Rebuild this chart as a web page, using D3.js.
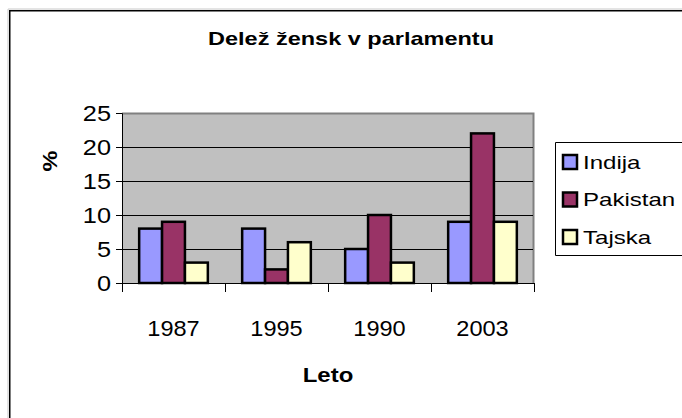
<!DOCTYPE html>
<html>
<head>
<meta charset="utf-8">
<script src="https://cdn.jsdelivr.net/npm/d3@7"></script>
<style>
  html, body { margin: 0; background: #fff; overflow: hidden; }
  svg { display: block; }
  text { font-family: "Liberation Sans", Arial, sans-serif; }
</style>
</head>
<body>
<div id="chart"></div>
<script>
// Data
var years = ["1987", "1995", "1990", "2003"];
var series = ["Indija", "Pakistan", "Tajska"];
var indija = [8, 8, 5, 9];
var pakistan = [9, 2, 10, 22];
var tajska = [3, 6, 3, 9];
var yTicks = [0, 5, 10, 15, 20, 25];
var colors = ["#9999FF", "#993366", "#FFFFCC"];

var values = [indija, pakistan, tajska];
var data = years.map(function(y, i) {
  return { year: y, vals: series.map(function(s, j) { return { name: s, value: values[j][i] }; }) };
});

var W = 682, H = 418;
var plot = { left: 122, right: 534, top: 113, bottom: 283 };

var svg = d3.select("#chart")
  .append("svg")
    .attr("width", W)
    .attr("height", H);

// the original chart text is a bit wider than the font, stretch it horizontally
function stretch(sel, k) {
  sel.each(function() {
    var len = this.getComputedTextLength();
    d3.select(this).attr("textLength", len * k).attr("lengthAdjust", "spacingAndGlyphs");
  });
}

// Outer chart frame: only left and top edges are inside the picture
svg.append("path")
  .attr("d", "M8," + H + "V9H" + W)
  .attr("fill", "none").attr("stroke", "#c8c8c8").attr("stroke-width", 1);
svg.append("path")
  .attr("d", "M9.75," + H + "V10.75H" + W)
  .attr("fill", "none").attr("stroke", "#000").attr("stroke-width", 1.5);

// Title
svg.append("text")
  .attr("x", 351).attr("y", 45)
  .attr("text-anchor", "middle")
  .style("font-size", "18.5px")
  .style("font-weight", "bold")
  .text("Delež žensk v parlamentu")
  .call(stretch, 1.27);

// Scales
var x0 = d3.scaleBand().domain(years).range([plot.left, plot.right]);
var bw = x0.bandwidth();
var barW = bw / 4.5;
var x1 = d3.scaleBand().domain(series).range([barW * 0.75, barW * 3.75]);
var y = d3.scaleLinear().domain([0, 25]).range([plot.bottom, plot.top]);

// Plot area
svg.append("rect")
  .attr("x", plot.left).attr("y", plot.top)
  .attr("width", plot.right - plot.left).attr("height", plot.bottom - plot.top)
  .attr("fill", "#C0C0C0");
svg.append("path")
  .attr("d", "M" + plot.left + "," + (plot.top + 0.5) + "H" + (plot.right - 0.5) + "V" + plot.bottom)
  .attr("fill", "none").attr("stroke", "#808080").attr("stroke-width", 2);

// Gridlines
svg.selectAll(".grid")
  .data(yTicks.filter(function(t) { return t > 0 && t < 25; }))
  .enter().append("line")
    .attr("x1", plot.left).attr("x2", plot.right - 1)
    .attr("y1", function(d) { return Math.round(y(d)) + 0.5; })
    .attr("y2", function(d) { return Math.round(y(d)) + 0.5; })
    .attr("stroke", "#000").attr("stroke-width", 1);

// Bars
var groups = svg.selectAll(".grp")
  .data(data)
  .enter().append("g")
    .attr("transform", function(d) { return "translate(" + x0(d.year) + ",0)"; });

groups.selectAll("rect")
  .data(function(d) { return d.vals; })
  .enter().append("rect")
    .attr("x", function(d) { return x1(d.name); })
    .attr("y", function(d) { return y(d.value); })
    .attr("width", x1.bandwidth())
    .attr("height", function(d) { return y(0) - y(d.value); })
    .attr("fill", function(d, i) { return colors[i]; })
    .attr("stroke", "#000")
    .attr("stroke-width", 2.5);

// Y axis
var yAxis = svg.append("g")
  .attr("transform", "translate(" + plot.left + ",0)")
  .call(d3.axisLeft(y).tickValues(yTicks).tickSize(6).tickPadding(5));
yAxis.select(".domain").attr("stroke", "#000");
yAxis.selectAll("text").style("font-size", "22px").attr("dy", "0.36em").call(stretch, 1.15);

// X axis
var xAxis = svg.append("g")
  .attr("transform", "translate(0," + plot.bottom + ")")
  .call(d3.axisBottom(x0).tickSize(0).tickPadding(37));
xAxis.select(".domain").attr("stroke", "#000").attr("d", "M" + plot.left + ",0.5H" + plot.right);
xAxis.selectAll("text").style("font-size", "22px").call(stretch, 1.07);
// category boundary ticks
svg.selectAll(".xt")
  .data(years.concat(["end"]))
  .enter().append("line")
    .attr("x1", function(d, i) { return Math.round(plot.left + i * bw) + 0.5; })
    .attr("x2", function(d, i) { return Math.round(plot.left + i * bw) + 0.5; })
    .attr("y1", plot.bottom).attr("y2", plot.bottom + 9)
    .attr("stroke", "#000");

// Axis titles
svg.append("text")
  .attr("transform", "translate(57,161) rotate(-90)")
  .attr("text-anchor", "middle")
  .style("font-size", "21px")
  .style("font-weight", "bold")
  .text("%")
  .call(stretch, 1.12);

svg.append("text")
  .attr("x", 328).attr("y", 382)
  .attr("text-anchor", "middle")
  .style("font-size", "21px")
  .style("font-weight", "bold")
  .text("Leto")
  .call(stretch, 1.14);

// Legend (box runs to the right edge of the picture)
var legend = svg.append("g");
legend.append("path")
  .attr("d", "M" + W + ",142.5H555.5V255.5H" + W)
  .attr("fill", "#fff").attr("stroke", "#000");
var items = legend.selectAll(".item")
  .data(series)
  .enter().append("g")
    .attr("transform", function(d, i) { return "translate(563," + (162 + i * 37.5) + ")"; });
items.append("rect")
  .attr("x", 0).attr("y", -7)
  .attr("width", 14).attr("height", 14)
  .attr("fill", function(d, i) { return colors[i]; })
  .attr("stroke", "#000").attr("stroke-width", 2.5);
items.append("text")
  .attr("x", 20).attr("y", 0).attr("dy", "0.36em")
  .style("font-size", "18.5px")
  .text(function(d) { return d; })
  .call(stretch, 1.3);
</script>
</body>
</html>
